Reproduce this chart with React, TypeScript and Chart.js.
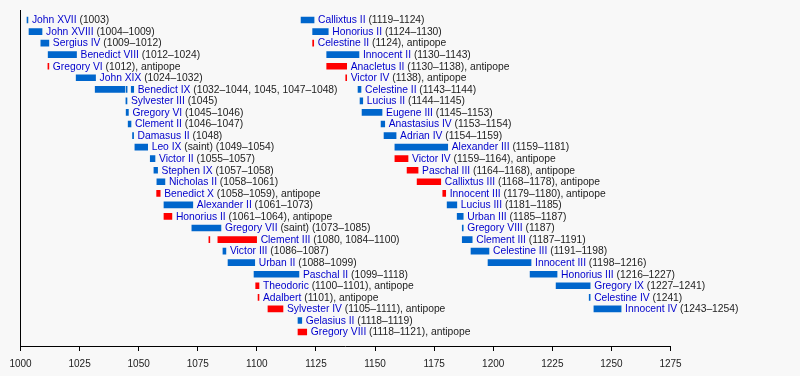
import { useEffect, useRef } from "react";
import { Chart, registerables } from "chart.js";

Chart.register(...registerables);

// Pope / antipope names (blue link text)
const names: string[] = [
  "John XVII", "John XVIII", "Sergius IV", "Benedict VIII", "Gregory VI", "John XIX", "Benedict IX",
  "Sylvester III", "Gregory VI", "Clement II", "Damasus II", "Leo IX", "Victor II", "Stephen IX",
  "Nicholas II", "Benedict X", "Alexander II", "Honorius II", "Gregory VII", "Clement III", "Victor III",
  "Urban II", "Paschal II", "Theodoric", "Adalbert", "Sylvester IV", "Gelasius II", "Gregory VIII",
  "Callixtus II", "Honorius II", "Celestine II", "Innocent II", "Anacletus II", "Victor IV", "Celestine II",
  "Lucius II", "Eugene III", "Anastasius IV", "Adrian IV", "Alexander III", "Victor IV", "Paschal III",
  "Callixtus III", "Innocent III", "Lucius III", "Urban III", "Gregory VIII", "Clement III", "Celestine III",
  "Innocent III", "Honorius III", "Gregory IX", "Celestine IV", "Innocent IV",
];

// Text after the name (dark)
const notes: string[] = [
  "(1003)", "(1004–1009)", "(1009–1012)", "(1012–1024)", "(1012), antipope", "(1024–1032)",
  "(1032–1044, 1045, 1047–1048)", "(1045)", "(1045–1046)", "(1046–1047)", "(1048)", "(saint) (1049–1054)",
  "(1055–1057)", "(1057–1058)", "(1058–1061)", "(1058–1059), antipope", "(1061–1073)",
  "(1061–1064), antipope", "(saint) (1073–1085)", "(1080, 1084–1100)", "(1086–1087)", "(1088–1099)",
  "(1099–1118)", "(1100–1101), antipope", "(1101), antipope", "(1105–1111), antipope", "(1118–1119)",
  "(1118–1121), antipope",
  "(1119–1124)", "(1124–1130)", "(1124), antipope", "(1130–1143)", "(1130–1138), antipope", "(1138), antipope",
  "(1143–1144)", "(1144–1145)", "(1145–1153)", "(1153–1154)", "(1154–1159)", "(1159–1181)",
  "(1159–1164), antipope", "(1164–1168), antipope", "(1168–1178), antipope", "(1179–1180), antipope",
  "(1181–1185)", "(1185–1187)", "(1187)", "(1187–1191)", "(1191–1198)", "(1198–1216)", "(1216–1227)",
  "(1227–1241)", "(1241)", "(1243–1254)",
];

// Row (line) each entry sits on
const rows: number[] = [
  0, 1, 2, 3, 4, 5, 6, 7, 8, 9, 10, 11, 12, 13, 14, 15, 16, 17, 18, 19, 20, 21, 22, 23, 24, 25, 26, 27,
  0, 1, 2, 3, 4, 5, 6, 7, 8, 9, 10, 11, 12, 13, 14, 15, 16, 17, 18, 19, 20, 21, 22, 23, 24, 25,
];

// Antipope flags (red bars)
const antipope: boolean[] = [
  false, false, false, false, true, false, false, false, false, false, false, false, false, false,
  false, true, false, true, false, true, false, false, false, true, true, true, false, true,
  false, false, true, false, true, true, false, false, false, false, false, false, true, true,
  true, true, false, false, false, false, false, false, false, false, false, false,
];

// Reign spans in (fractional) years
const spans: number[][][] = [
  [[1002.75, 1003.15]], [[1003.6, 1009.1]], [[1008.6, 1012.0]], [[1011.7, 1023.7]], [[1011.6, 1012.0]],
  [[1023.55, 1031.75]], [[1031.6, 1044.15], [1044.7, 1045.1], [1046.85, 1047.9]], [[1044.6, 1045.05]],
  [[1044.7, 1045.65]], [[1045.55, 1046.75]], [[1047.4, 1047.85]], [[1048.4, 1053.8]], [[1054.9, 1056.9]],
  [[1056.45, 1058.0]], [[1057.7, 1061.1]], [[1057.6, 1059.1]], [[1060.7, 1072.9]], [[1060.7, 1064.05]],
  [[1072.5, 1084.8]], [[1079.7, 1080.1], [1083.5, 1099.9]], [[1085.65, 1086.9]], [[1087.8, 1099.1]],
  [[1098.8, 1117.8]], [[1099.5, 1100.9]], [[1100.5, 1100.9]], [[1104.7, 1111.05]], [[1117.4, 1119.0]],
  [[1117.4, 1121.1]],
  [[1118.7, 1124.2]], [[1123.6, 1130.2]], [[1123.6, 1124.05]], [[1129.55, 1143.2]], [[1129.55, 1138.0]],
  [[1137.6, 1138.0]], [[1142.8, 1144.05]], [[1143.65, 1144.8]], [[1144.5, 1152.95]], [[1152.55, 1154.1]],
  [[1153.8, 1158.9]], [[1158.4, 1180.75]], [[1158.4, 1163.95]], [[1163.55, 1168.2]], [[1167.8, 1177.8]],
  [[1178.65, 1179.9]], [[1180.5, 1184.6]], [[1184.75, 1187.3]], [[1186.9, 1187.3]], [[1186.9, 1191.1]],
  [[1190.6, 1198.2]], [[1197.8, 1216.0]], [[1215.6, 1227.0]], [[1226.6, 1241.0]], [[1240.6, 1241.0]],
  [[1242.6, 1254.1]],
];

const yearTicks: number[] = [1000, 1025, 1050, 1075, 1100, 1125, 1150, 1175, 1200, 1225, 1250, 1275];

const FONT = "'Liberation Sans', Arial, Helvetica, sans-serif";

export default function App() {
  const ref = useRef<HTMLCanvasElement>(null);

  useEffect(() => {
    document.body.style.margin = "0";
    document.body.style.background = "#f8f8f8";
    const canvas = ref.current;
    if (!canvas) return;

    const popeData: any[] = [];
    const antiData: any[] = [];
    names.forEach((_, i) => {
      spans[i].forEach(([s, e]) => {
        (antipope[i] ? antiData : popeData).push({ x: [s, e], y: rows[i] });
      });
    });

    const bgPlugin = {
      id: "bg",
      beforeDraw(chart: any) {
        const ctx = chart.ctx;
        ctx.save();
        ctx.fillStyle = "#f8f8f8";
        ctx.fillRect(0, 0, chart.width, chart.height);
        ctx.restore();
      },
    };

    const labelPlugin = {
      id: "popeLabels",
      afterDatasetsDraw(chart: any) {
        const { ctx } = chart;
        const xs = chart.scales.x;
        const ys = chart.scales.y;
        ctx.save();
        ctx.font = `10.3px ${FONT}`;
        ctx.textBaseline = "middle";
        ctx.textAlign = "left";
        names.forEach((name, i) => {
          const end = Math.max(...spans[i].map((s) => s[1]));
          const px = xs.getPixelForValue(end) + 4;
          const py = ys.getPixelForValue(rows[i]) + 0.5;
          ctx.fillStyle = "#0000cc";
          ctx.fillText(name, px, py);
          const w = ctx.measureText(name + " ").width;
          ctx.fillStyle = "#222222";
          ctx.fillText(notes[i], px + w, py);
        });
        ctx.restore();
      },
    };

    const chart = new Chart(canvas, {
      type: "bar",
      data: {
        datasets: [
          { label: "Pope", data: popeData, backgroundColor: "#0066cc", barThickness: 6, grouped: false } as any,
          { label: "Antipope", data: antiData, backgroundColor: "#ff0000", barThickness: 6, grouped: false } as any,
        ],
      },
      options: {
        indexAxis: "y",
        responsive: false,
        animation: false,
        devicePixelRatio: 1,
        layout: { padding: { left: 20.5, top: 10, right: 129.5, bottom: 0 } },
        plugins: { legend: { display: false }, tooltip: { enabled: false } },
        scales: {
          x: {
            type: "linear",
            min: 1000,
            max: 1275,
            offset: false,
            afterBuildTicks: (s: any) => {
              s.ticks = yearTicks.map((v) => ({ value: v }));
            },
            afterFit: (s: any) => {
              s.height = 30;
            },
            ticks: {
              color: "#222222",
              font: { size: 10, family: FONT },
              padding: 7,
              maxRotation: 0,
              autoSkip: false,
              callback: (v: any) => String(v),
            },
            grid: { drawOnChartArea: false, drawTicks: true, tickLength: 5, color: "#000000", offset: false },
            border: { display: true, color: "#000000", width: 1 },
          },
          y: {
            type: "linear",
            reverse: true,
            min: -0.865,
            max: 28.21,
            offset: false,
            afterFit: (s: any) => {
              s.width = 0;
            },
            ticks: { display: false },
            grid: { display: false, offset: false },
            border: { display: true, color: "#000000", width: 1 },
          },
        },
      } as any,
      plugins: [bgPlugin, labelPlugin],
    });

    return () => chart.destroy();
  }, []);

  return <canvas ref={ref} width={800} height={376} style={{ display: "block" }} />;
}
